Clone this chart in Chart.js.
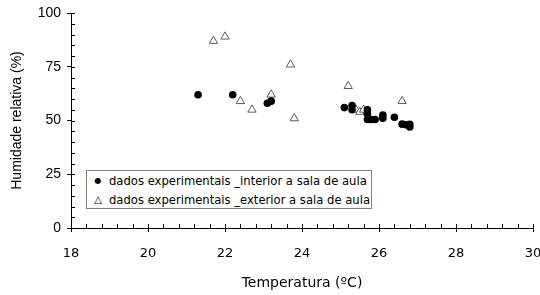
<!DOCTYPE html>
<html>
<head>
<meta charset="utf-8">
<script src="https://cdn.jsdelivr.net/npm/chart.js@4"></script>
<style>
	body { margin: 0; background: #fff; }
	#wrap { position: relative; width: 540px; height: 295px; }
	#legend {
		position: absolute; left: 86px; top: 170px; width: 286px; height: 39px;
		border: 1px solid #808080; background: #fff;
		font-family: "DejaVu Sans", sans-serif; font-size: 11.6px; color: #000;
		box-sizing: border-box; padding-top: 1px;
	}
	#legend div { height: 18.5px; line-height: 18.5px; white-space: nowrap; }
	#legend .mk { display: inline-block; width: 22px; text-align: center; font-size: 10px; vertical-align: top; }
	#legend .dot { font-size: 8px; }
</style>
</head>
<body>
<div id="wrap">
	<canvas id="myChart" width="540" height="295"></canvas>
	<div id="legend"></div>
</div>
<script>
const interiorLabel = 'dados experimentais _interior a sala de aula'
const exteriorLabel = 'dados experimentais _exterior a sala de aula'

const interiorTemp = [21.3, 22.2, 23.1, 23.2, 25.1, 25.3, 25.3, 25.7, 25.7, 25.7, 25.8, 25.9, 26.1, 26.1, 26.4, 26.6, 26.7, 26.8, 26.8]
const interiorHum = [62, 62, 58, 59, 56, 57, 55, 55, 53, 50.5, 50.5, 50.5, 52.5, 51, 51.5, 48.3, 48, 48.2, 47]

const exteriorTemp = [21.7, 22.0, 22.4, 22.7, 23.2, 23.7, 23.8, 25.2, 25.4, 25.5, 25.6, 26.6]
const exteriorHum = [87, 89, 59, 55, 62, 76, 51, 66, 55, 54, 55, 59]

const xTicks = [18, 20, 22, 24, 26, 28, 30]
const yTicks = [0, 25, 50, 75, 100]

function pts(xs, ys) {
	return xs.map((x, i) => ({ x: x, y: ys[i] }))
}

// minor ticks point inward, major ticks cross the axis
const tickMarks = {
	id: 'tickMarks',
	afterDraw(chart) {
		const ctx = chart.ctx
		const xs = chart.scales.x
		const ys = chart.scales.y
		const area = chart.chartArea
		ctx.save()
		ctx.strokeStyle = '#000'
		ctx.lineWidth = 1
		ctx.beginPath()
		for (let v = 18; v <= 30.001; v += 0.4) {
			const px = Math.round(xs.getPixelForValue(v)) + 0.5
			ctx.moveTo(px, area.bottom)
			ctx.lineTo(px, area.bottom - 4)
		}
		for (let v = 0; v <= 100.001; v += 5) {
			const py = Math.round(ys.getPixelForValue(v)) + 0.5
			ctx.moveTo(area.left, py)
			ctx.lineTo(area.left + 4, py)
		}
		ctx.stroke()
		ctx.restore()
	}
}

var ctx = document.getElementById('myChart').getContext('2d')
var myChart = new Chart(ctx, {
	type: 'scatter',
	data: {
		datasets: [
			{
				label: interiorLabel,
				data: pts(interiorTemp, interiorHum),
				pointStyle: 'circle',
				pointRadius: 3.8,
				backgroundColor: '#000',
				borderColor: '#000',
				borderWidth: 0
			},
			{
				label: exteriorLabel,
				data: pts(exteriorTemp, exteriorHum),
				pointStyle: 'triangle',
				pointRadius: 4.8,
				backgroundColor: '#fff',
				borderColor: '#333',
				borderWidth: 0.8
			}
		]
	},
	options: {
		responsive: false,
		animation: false,
		layout: { padding: { left: 0, top: 13, right: 7, bottom: 0 } },
		plugins: {
			legend: { display: false },
			tooltip: { enabled: false }
		},
		scales: {
			x: {
				type: 'linear',
				min: 18,
				max: 30,
				afterBuildTicks: s => { s.ticks = xTicks.map(v => ({ value: v })) },
				afterFit: s => { s.height = 67; s.paddingLeft = 0; s.paddingRight = 0 },
				grid: { display: true, drawOnChartArea: false, tickLength: 4, color: '#000' },
				border: { display: true, color: '#000', width: 1 },
				ticks: {
					padding: 14,
					color: '#000',
					font: { family: 'DejaVu Sans', size: 13 }
				},
				title: {
					display: true,
					text: 'Temperatura (ºC)',
					color: '#000',
					font: { family: 'DejaVu Sans', size: 14 },
					padding: { top: 0, bottom: 3 }
				}
			},
			y: {
				type: 'linear',
				min: 0,
				max: 100,
				afterBuildTicks: s => { s.ticks = yTicks.map(v => ({ value: v })) },
				afterFit: s => { s.width = 71; s.paddingTop = 0; s.paddingBottom = 0 },
				grid: { display: true, drawOnChartArea: false, tickLength: 4, color: '#000' },
				border: { display: true, color: '#000', width: 1 },
				ticks: {
					padding: 6,
					color: '#000',
					font: { family: 'Liberation Sans', size: 14 }
				},
				title: {
					display: true,
					text: 'Humidade relativa (%)',
					color: '#000',
					font: { family: 'Liberation Sans', size: 14 },
					padding: { top: 9, bottom: 0 }
				}
			}
		}
	},
	plugins: [tickMarks]
})

document.getElementById('legend').innerHTML =
	'<div><span class="mk dot">●</span>' + interiorLabel + '</div>' +
	'<div><span class="mk">△</span>' + exteriorLabel + '</div>'
</script>
</body>
</html>
